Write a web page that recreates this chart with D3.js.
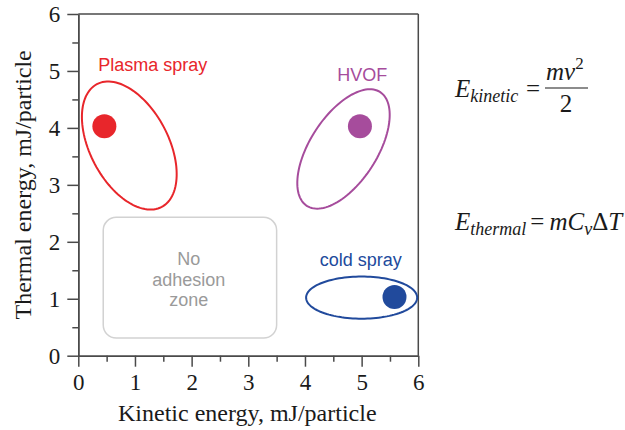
<!DOCTYPE html>
<html>
<head>
<meta charset="utf-8">
<script src="https://cdn.jsdelivr.net/npm/d3@7/dist/d3.min.js"></script>
<style>
  html, body { margin: 0; padding: 0; background: #fff; }
  svg { display: block; }
</style>
</head>
<body>
<svg id="chart" width="625" height="430"></svg>
<script>
// Deposition processes: kinetic vs thermal energy per particle
const processes = ["Plasma spray", "HVOF", "cold spray"];
const colors = ["#e8262b", "#a64c9c", "#214a9c"];
// typical operating point (dot) for each process
const pointKinetic = [0.46, 4.97, 5.58];
const pointThermal = [4.03, 4.03, 1.03];
// operating window: ellipse centre, semi-axes (data units), tilt from vertical (deg)
const windowCx = [0.90, 4.68, 5.00];
const windowCy = [3.69, 3.63, 1.02];
const windowMajor = [1.22, 1.19, 0.98];
const windowMinor = [0.69, 0.59, 0.37];
const windowTilt = [-28, 33, 90];
// label anchor (start of text baseline)
const labelX = [0.35, 4.57, 4.26];
const labelY = [5.00, 4.83, 1.575];

// no-adhesion region
const zoneX = [0.44, 3.50];
const zoneY = [0.31, 2.43];
const zoneLines = ["No", "adhesion", "zone"];

const xTicks = [0, 1, 2, 3, 4, 5, 6];
const yTicks = [0, 1, 2, 3, 4, 5, 6];
const minorTicks = [0.5, 1.5, 2.5, 3.5, 4.5, 5.5];

const serif = "'Liberation Serif', 'Times New Roman', Times, serif";
const sans = "'Liberation Sans', Arial, Helvetica, sans-serif";
const axisColor = "#4a4a4a";

const svg = d3.select("#chart");
const x = d3.scaleLinear().domain([0, 6]).range([78.3, 418.3]);
const y = d3.scaleLinear().domain([0, 6]).range([355.7, 14]);

// frame (top and right)
svg.append("line").attr("x1", x(0)).attr("x2", x(6)).attr("y1", y(6)).attr("y2", y(6))
  .attr("stroke", axisColor).attr("stroke-width", 1.5);
svg.append("line").attr("x1", x(6)).attr("x2", x(6)).attr("y1", y(6)).attr("y2", y(0))
  .attr("stroke", axisColor).attr("stroke-width", 1.5);

function styleAxis(g) {
  g.select(".domain").attr("stroke", axisColor).attr("stroke-width", 1.5);
  g.selectAll(".tick line").attr("stroke", axisColor).attr("stroke-width", 1.5);
  g.selectAll(".tick text").attr("fill", "#1a1a1a").style("font-family", serif).style("font-size", "23px");
}

const gx = svg.append("g").attr("transform", `translate(0,${y(0)})`)
  .call(d3.axisBottom(x).tickValues(xTicks).tickSize(11).tickSizeOuter(0).tickPadding(7).tickFormat(d3.format("d")));
styleAxis(gx);
const gxm = svg.append("g").attr("transform", `translate(0,${y(0)})`)
  .call(d3.axisBottom(x).tickValues(minorTicks).tickSize(6).tickSizeOuter(0).tickFormat(""));
styleAxis(gxm);

const gy = svg.append("g").attr("transform", `translate(${x(0)},0)`)
  .call(d3.axisLeft(y).tickValues(yTicks).tickSize(11).tickSizeOuter(0).tickPadding(7).tickFormat(d3.format("d")));
styleAxis(gy);
const gym = svg.append("g").attr("transform", `translate(${x(0)},0)`)
  .call(d3.axisLeft(y).tickValues(minorTicks).tickSize(6).tickSizeOuter(0).tickFormat(""));
styleAxis(gym);

// axis titles
svg.append("text").attr("x", (x(0) + x(6)) / 2 - 1).attr("y", 421)
  .attr("text-anchor", "middle").attr("fill", "#1a1a1a")
  .style("font-family", serif).style("font-size", "24px")
  .text("Kinetic energy, mJ/particle");
svg.append("text")
  .attr("transform", `translate(31,${(y(0) + y(6)) / 2}) rotate(-90)`)
  .attr("text-anchor", "middle").attr("fill", "#1a1a1a")
  .style("font-family", serif).style("font-size", "24px")
  .text("Thermal energy, mJ/particle");

// no-adhesion zone
svg.append("rect")
  .attr("x", x(zoneX[0])).attr("y", y(zoneY[1]))
  .attr("width", x(zoneX[1]) - x(zoneX[0])).attr("height", y(zoneY[0]) - y(zoneY[1]))
  .attr("rx", 13).attr("ry", 13)
  .attr("fill", "none").attr("stroke", "#d2d2d2").attr("stroke-width", 1.5);
const zoneCx = (zoneX[0] + zoneX[1]) / 2 - 0.02;
svg.append("g").selectAll("text").data(zoneLines).join("text")
  .attr("x", x(zoneCx))
  .attr("y", (d, i) => 265 + i * 20.5)
  .attr("text-anchor", "middle").attr("fill", "#9a9a9a")
  .style("font-family", sans).style("font-size", "18px")
  .text(d => d);

// operating windows
function ellipsePoints(cx, cy, a, b, tiltDeg) {
  const t = tiltDeg * Math.PI / 180;
  const ux = Math.sin(t), uy = Math.cos(t);   // major axis direction
  const vx = Math.cos(t), vy = -Math.sin(t);  // minor axis direction
  return d3.range(0, 121).map(k => {
    const s = k / 120 * 2 * Math.PI;
    return [cx + a * Math.cos(s) * ux + b * Math.sin(s) * vx,
            cy + a * Math.cos(s) * uy + b * Math.sin(s) * vy];
  });
}
const ellipseLine = d3.line().x(d => x(d[0])).y(d => y(d[1])).curve(d3.curveLinearClosed);

processes.forEach((name, i) => {
  svg.append("path")
    .attr("d", ellipseLine(ellipsePoints(windowCx[i], windowCy[i], windowMajor[i], windowMinor[i], windowTilt[i])))
    .attr("fill", "none").attr("stroke", colors[i]).attr("stroke-width", 2);
  svg.append("circle")
    .attr("cx", x(pointKinetic[i])).attr("cy", y(pointThermal[i])).attr("r", 12)
    .attr("fill", colors[i]);
  svg.append("text")
    .attr("x", x(labelX[i])).attr("y", y(labelY[i]))
    .attr("fill", colors[i])
    .style("font-family", sans).style("font-size", "18px")
    .text(name);
});

// energy formulas
const eq = svg.append("g").style("font-family", serif).attr("fill", "#1a1a1a");
const e1 = 97, frac = 88;
const t1 = eq.append("text").attr("x", 455).attr("y", e1).style("font-size", "25px");
t1.append("tspan").style("font-style", "italic").text("E");
t1.append("tspan").style("font-style", "italic").style("font-size", "18px").attr("dy", 5).text("kinetic");
eq.append("text").attr("x", 526).attr("y", e1).style("font-size", "25px").text("=");
const num = eq.append("text").attr("x", 546).attr("y", frac - 8).style("font-size", "25px");
num.append("tspan").style("font-style", "italic").text("mv");
num.append("tspan").style("font-size", "17px").attr("dy", -11).text("2");
eq.append("line").attr("x1", 545).attr("x2", 588).attr("y1", frac).attr("y2", frac)
  .attr("stroke", "#1a1a1a").attr("stroke-width", 1.2);
eq.append("text").attr("x", 566).attr("y", frac + 24).attr("text-anchor", "middle")
  .style("font-size", "25px").text("2");

const e2 = 230;
const t2 = eq.append("text").attr("x", 455).attr("y", e2).style("font-size", "25px");
t2.append("tspan").style("font-style", "italic").text("E");
t2.append("tspan").style("font-style", "italic").style("font-size", "18px").attr("dy", 5).text("thermal");
t2.append("tspan").attr("dy", -5).attr("dx", 4).text("=");
t2.append("tspan").attr("dx", 5).style("font-style", "italic").text("mC");
t2.append("tspan").style("font-style", "italic").style("font-size", "18px").attr("dy", 5).text("v");
t2.append("tspan").attr("dy", -5).style("font-style", "normal").text("Δ");
t2.append("tspan").style("font-style", "italic").text("T");
</script>
</body>
</html>
